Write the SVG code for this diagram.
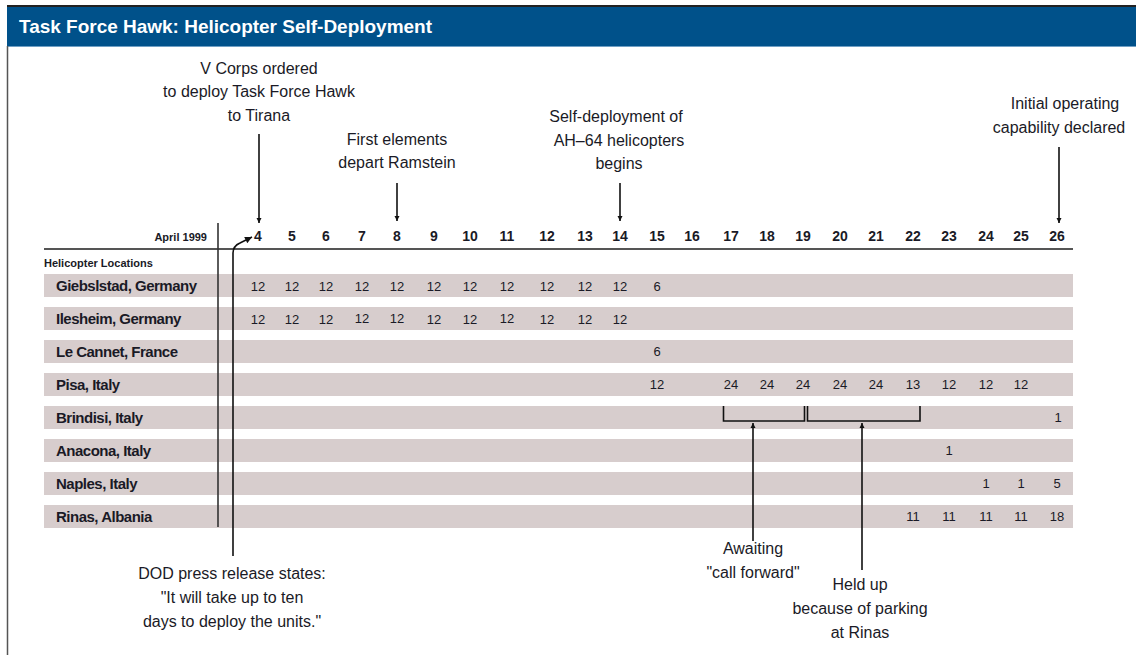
<svg xmlns="http://www.w3.org/2000/svg" width="1136" height="655" viewBox="0 0 1136 655">
<defs>
<marker id="ah" viewBox="0 0 10 10" refX="10" refY="5" markerWidth="5" markerHeight="9" markerUnits="userSpaceOnUse" orient="auto">
<path d="M0,0 L10,5 L0,10 z" fill="#111"/>
</marker>
<marker id="ah2" viewBox="0 0 10 10" refX="10" refY="5" markerWidth="14" markerHeight="7" markerUnits="userSpaceOnUse" orient="auto">
<path d="M0,0 L10,5 L0,10 z" fill="#111"/>
</marker>
</defs>
<style>
text{font-family:"Liberation Sans Narrow","Liberation Sans",Arial,sans-serif;fill:#1a1a26}
.ann{font-size:16px;text-anchor:middle}
.day{font-size:14px;font-weight:bold;text-anchor:middle}
.lbl{font-size:15px;font-weight:bold;letter-spacing:-0.5px}
.num{font-size:13px;text-anchor:middle}
.band{fill:#d7cdcd}
.conn{stroke:#111;stroke-width:1.6;fill:none}
</style>
<rect x="0" y="0" width="1136" height="655" fill="#fff"/>
<g id="header">
<rect x="7" y="5" width="1129" height="2" fill="#222"/>
<rect x="7" y="7" width="1129" height="39" fill="#00518a"/>
<rect x="7" y="46" width="1129" height="1" fill="#6f9fc4"/>
<text x="19" y="33" style="font-family:'Liberation Sans',Arial,sans-serif;font-size:19px;font-weight:bold;fill:#fff" textLength="413" lengthAdjust="spacingAndGlyphs">Task Force Hawk: Helicopter Self-Deployment</text>
</g>
<line x1="7.5" y1="46" x2="7.5" y2="655" stroke="#555" stroke-width="1.5"/>
<g id="axis">
<text x="207" y="241" style="font-size:11px;font-weight:bold;text-anchor:end">April 1999</text>
<g class="days">
<text class="day" x="258" y="241">4</text>
<text class="day" x="292" y="241">5</text>
<text class="day" x="326" y="241">6</text>
<text class="day" x="362" y="241">7</text>
<text class="day" x="397" y="241">8</text>
<text class="day" x="434" y="241">9</text>
<text class="day" x="470" y="241">10</text>
<text class="day" x="507" y="241">11</text>
<text class="day" x="547" y="241">12</text>
<text class="day" x="585" y="241">13</text>
<text class="day" x="620" y="241">14</text>
<text class="day" x="657" y="241">15</text>
<text class="day" x="692" y="241">16</text>
<text class="day" x="731" y="241">17</text>
<text class="day" x="767" y="241">18</text>
<text class="day" x="803" y="241">19</text>
<text class="day" x="840" y="241">20</text>
<text class="day" x="876" y="241">21</text>
<text class="day" x="913" y="241">22</text>
<text class="day" x="949" y="241">23</text>
<text class="day" x="986" y="241">24</text>
<text class="day" x="1021" y="241">25</text>
<text class="day" x="1057" y="241">26</text>
</g>
<line x1="44" y1="249" x2="1073" y2="249" stroke="#555" stroke-width="2"/>
<text x="44" y="267" style="font-size:11px;font-weight:bold">Helicopter Locations</text>
</g>
<g id="row-giebelstadt">
<rect class="band" x="44" y="274" width="1029" height="23"/>
<text class="lbl" x="56" y="291">Giebslstad, Germany</text>
<text class="num" x="258" y="291">12</text><text class="num" x="292" y="291">12</text><text class="num" x="326" y="291">12</text><text class="num" x="362" y="291">12</text><text class="num" x="397" y="291">12</text><text class="num" x="434" y="291">12</text><text class="num" x="470" y="291">12</text><text class="num" x="507" y="291">12</text><text class="num" x="547" y="291">12</text><text class="num" x="585" y="291">12</text><text class="num" x="620" y="291">12</text><text class="num" x="657" y="291">6</text>
</g>
<g id="row-illesheim">
<rect class="band" x="44" y="307" width="1029" height="23"/>
<text class="lbl" x="56" y="324">Ilesheim, Germany</text>
<text class="num" x="258" y="324">12</text><text class="num" x="292" y="324">12</text><text class="num" x="326" y="324">12</text><text class="num" x="362" y="323">12</text><text class="num" x="397" y="323">12</text><text class="num" x="434" y="324">12</text><text class="num" x="470" y="324">12</text><text class="num" x="507" y="323">12</text><text class="num" x="547" y="324">12</text><text class="num" x="585" y="324">12</text><text class="num" x="620" y="324">12</text>
</g>
<g id="row-lecannet">
<rect class="band" x="44" y="340" width="1029" height="23"/>
<text class="lbl" x="56" y="357">Le Cannet, France</text>
<text class="num" x="657" y="356">6</text>
</g>
<g id="row-pisa">
<rect class="band" x="44" y="373" width="1029" height="23"/>
<text class="lbl" x="56" y="390">Pisa, Italy</text>
<text class="num" x="657" y="389">12</text><text class="num" x="731" y="389">24</text><text class="num" x="767" y="389">24</text><text class="num" x="803" y="389">24</text><text class="num" x="840" y="389">24</text><text class="num" x="876" y="389">24</text><text class="num" x="913" y="389">13</text><text class="num" x="949" y="389">12</text><text class="num" x="986" y="389">12</text><text class="num" x="1021" y="389">12</text>
</g>
<g id="row-brindisi">
<rect class="band" x="44" y="406" width="1029" height="23"/>
<text class="lbl" x="56" y="423">Brindisi, Italy</text>
<text class="num" x="1058" y="422">1</text>
</g>
<g id="row-ancona">
<rect class="band" x="44" y="439" width="1029" height="23"/>
<text class="lbl" x="56" y="456">Anacona, Italy</text>
<text class="num" x="949" y="455">1</text>
</g>
<g id="row-naples">
<rect class="band" x="44" y="472" width="1029" height="23"/>
<text class="lbl" x="56" y="489">Naples, Italy</text>
<text class="num" x="986" y="488">1</text><text class="num" x="1021" y="488">1</text><text class="num" x="1057" y="488">5</text>
</g>
<g id="row-rinas">
<rect class="band" x="44" y="505" width="1029" height="23"/>
<text class="lbl" x="56" y="522">Rinas, Albania</text>
<text class="num" x="913" y="521">11</text><text class="num" x="949" y="521">11</text><text class="num" x="986" y="521">11</text><text class="num" x="1021" y="521">11</text><text class="num" x="1057" y="521">18</text>
</g>
<line x1="218" y1="223" x2="218" y2="527" stroke="#333" stroke-width="1.6"/>
<g id="annotations">
<text class="ann" x="259" y="74">V Corps ordered</text>
<text class="ann" x="259" y="97">to deploy Task Force Hawk</text>
<text class="ann" x="259" y="121">to Tirana</text>
<text class="ann" x="397" y="145">First elements</text>
<text class="ann" x="397" y="168">depart Ramstein</text>
<text class="ann" x="616" y="122">Self-deployment of</text>
<text class="ann" x="619" y="146">AH–64 helicopters</text>
<text class="ann" x="619" y="169">begins</text>
<text class="ann" x="1065" y="109">Initial operating</text>
<text class="ann" x="1059" y="133">capability declared</text>
<text class="ann" x="232" y="579">DOD press release states:</text>
<text class="ann" x="232" y="603">"It will take up to ten</text>
<text class="ann" x="232" y="627">days to deploy the units."</text>
<text class="ann" x="753" y="554">Awaiting</text>
<text class="ann" x="753" y="578">"call forward"</text>
<text class="ann" x="860" y="590">Held up</text>
<text class="ann" x="860" y="614">because of parking</text>
<text class="ann" x="860" y="638">at Rinas</text>
</g>
<g id="connectors">
<line class="conn" x1="259" y1="134" x2="259" y2="223" marker-end="url(#ah)"/>
<line class="conn" x1="397" y1="183" x2="397" y2="221" marker-end="url(#ah)"/>
<line class="conn" x1="620" y1="183" x2="620" y2="221" marker-end="url(#ah)"/>
<line class="conn" x1="1059" y1="147" x2="1059" y2="223" marker-end="url(#ah)"/>
<path class="conn" d="M233,556 L233,253 Q233,246 240,243 L252,237" stroke="#444" marker-end="url(#ah2)"/>
<path class="conn" d="M723.5,406 V421 H804.5 V406" stroke="#333"/>
<path class="conn" d="M807.5,406 V421 H920 V406" stroke="#333"/>
<line class="conn" x1="753" y1="541" x2="753" y2="423" marker-end="url(#ah)"/>
<line class="conn" x1="862" y1="570" x2="862" y2="423" marker-end="url(#ah)"/>
</g>
</svg>
